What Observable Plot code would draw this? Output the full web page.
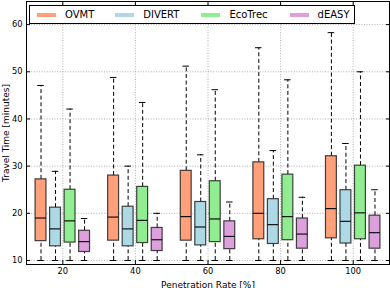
<!DOCTYPE html>
<html>
<head>
<meta charset="utf-8">
<script src="https://cdn.jsdelivr.net/npm/d3@7"></script>
<script src="https://cdn.jsdelivr.net/npm/@observablehq/plot@0.6"></script>
<style>
  html, body { margin: 0; padding: 0; background: #fff; }
  #wrap { position: relative; width: 390px; height: 288px; font-family: "DejaVu Sans", sans-serif; }
  #legend { position: absolute; left: 29px; top: 5px; width: 324px; height: 17px; border: 1px solid #000; background: #fff;
            display: flex; align-items: center; box-sizing: content-box; font-size: 10px; }
  .item { display: flex; align-items: center; }
  .sw { width: 19px; height: 4px; margin-right: 9px; }
</style>
</head>
<body>
<div id="wrap"></div>
<script>
const rates = [20, 40, 60, 80, 100];
const series = ["OVMT", "DIVERT", "EcoTrec", "dEASY"];
const colors = ["#FFA07A", "#ADD8E6", "#90EE90", "#DDA0DD"];
const yTicks = [10, 20, 30, 40, 50, 60];

// box statistics per series, one value per penetration rate
const whiskerHigh = {
  OVMT:    [47.1, 48.8, 51.2, 55.1, 58.3],
  DIVERT:  [28.9, 30.0, 32.4, 33.3, 34.8],
  EcoTrec: [42.1, 43.5, 46.2, 48.3, 50.0],
  dEASY:   [18.9, 20.0, 22.4, 23.4, 25.0]
};
const q3 = {
  OVMT:    [27.2, 28.0, 29.0, 30.8, 32.1],
  DIVERT:  [21.2, 21.4, 22.4, 23.0, 24.9],
  EcoTrec: [25.0, 25.6, 26.8, 28.2, 30.1],
  dEASY:   [16.3, 16.9, 18.3, 18.9, 19.5]
};
const median = {
  OVMT:    [19.0, 19.2, 19.3, 20.0, 21.0],
  DIVERT:  [16.7, 16.7, 17.1, 17.6, 18.3],
  EcoTrec: [18.4, 18.5, 18.8, 19.3, 20.1],
  dEASY:   [14.0, 14.4, 15.1, 15.6, 15.9]
};
const q1 = {
  OVMT:    [14.1, 14.2, 14.2, 14.5, 14.7],
  DIVERT:  [13.0, 13.0, 13.2, 13.5, 13.6],
  EcoTrec: [13.8, 13.7, 13.9, 14.3, 14.5],
  dEASY:   [11.8, 12.0, 12.4, 12.5, 12.5]
};
const whiskerLow = {
  OVMT:    [10, 10, 10, 10, 10],
  DIVERT:  [10, 10, 10, 10, 10],
  EcoTrec: [10, 10, 10, 10, 10],
  dEASY:   [10, 10, 10, 10, 10]
};

const offsets = [-6, -2, 2, 6];   // position of each series within a group (x units)
const boxHalf = 1.5, capHalf = 0.9;

const data = rates.flatMap((r, i) => series.map((s, j) => ({
  series: s,
  x: r + offsets[j],
  hi: whiskerHigh[s][i], q3: q3[s][i], med: median[s][i], q1: q1[s][i], lo: whiskerLow[s][i]
})));

const dash = "4,2.6";
const plot = Plot.plot({
  width: 390,
  height: 288,
  marginLeft: 26,
  marginRight: 1,
  marginTop: 1,
  marginBottom: 24,
  style: { fontFamily: "DejaVu Sans, sans-serif", fontSize: "8.3px", background: "white", color: "#000" },
  x: { domain: [10, 110] },
  y: { domain: [9.15, 64.9] },
  color: { domain: series, range: colors },
  marks: [
    Plot.gridX(rates, { stroke: "#808080", strokeOpacity: 0.9, strokeDasharray: "1,1.6", strokeWidth: 0.7 }),
    Plot.gridY(yTicks, { stroke: "#808080", strokeOpacity: 0.9, strokeDasharray: "1,1.6", strokeWidth: 0.7 }),
    // whiskers
    Plot.ruleX(data, { x: "x", y1: "q3", y2: "hi", stroke: "#000", strokeDasharray: dash, strokeWidth: 1 }),
    Plot.ruleX(data, { x: "x", y1: "lo", y2: "q1", stroke: "#000", strokeDasharray: dash, strokeWidth: 1 }),
    // caps
    Plot.ruleY(data, { y: "hi", x1: d => d.x - capHalf, x2: d => d.x + capHalf, stroke: "#000", strokeWidth: 1 }),
    Plot.ruleY(data, { y: "lo", x1: d => d.x - capHalf, x2: d => d.x + capHalf, stroke: "#000", strokeWidth: 1 }),
    // boxes
    Plot.rect(data, { x1: d => d.x - boxHalf, x2: d => d.x + boxHalf, y1: "q1", y2: "q3", fill: "series",
                      stroke: "#222", strokeOpacity: 0.85, strokeWidth: 1.2 }),
    // medians
    Plot.ruleY(data, { y: "med", x1: d => d.x - boxHalf, x2: d => d.x + boxHalf, stroke: "#111", strokeWidth: 1.2 }),
    Plot.frame({ stroke: "#000", strokeWidth: 1 }),
    // inward tick marks
    Plot.axisX(rates, { anchor: "bottom", tickSize: -4, tickFormat: () => "", label: null }),
    Plot.axisX(rates, { anchor: "top", tickSize: -4, tickFormat: () => "", label: null }),
    Plot.axisY(yTicks, { anchor: "left", tickSize: -4, tickFormat: () => "", label: null }),
    Plot.axisY(yTicks, { anchor: "right", tickSize: -4, tickFormat: () => "", label: null }),
    // tick labels
    Plot.axisX(rates, { anchor: "bottom", tickSize: 0, tickPadding: 4, fontSize: 8.3, label: null }),
    Plot.axisY(yTicks, { anchor: "left", tickSize: 0, tickPadding: 4, fontSize: 8.3, label: null }),
    // axis titles
    Plot.axisX(rates, { anchor: "bottom", tickSize: 0, tickFormat: () => "", fontSize: 9,
                        label: "Penetration Rate [%]", labelAnchor: "center", labelArrow: "none", labelOffset: 23 }),
    Plot.axisY(yTicks, { anchor: "left", tickSize: 0, tickFormat: () => "", fontSize: 9,
                         label: "Travel Time [minutes]", labelAnchor: "center", labelArrow: "none", labelOffset: 24 })
  ]
});

const wrap = document.getElementById("wrap");
wrap.appendChild(plot);

const legend = document.createElement("div");
legend.id = "legend";
const gaps = [7, 21, 22, 22];
series.forEach((s, j) => {
  const it = document.createElement("div");
  it.className = "item";
  it.style.marginLeft = gaps[j] + "px";
  const sw = document.createElement("div");
  sw.className = "sw";
  sw.style.background = colors[j];
  const lab = document.createElement("span");
  lab.textContent = s;
  it.appendChild(sw);
  it.appendChild(lab);
  legend.appendChild(it);
});
wrap.appendChild(legend);
</script>
</body>
</html>
